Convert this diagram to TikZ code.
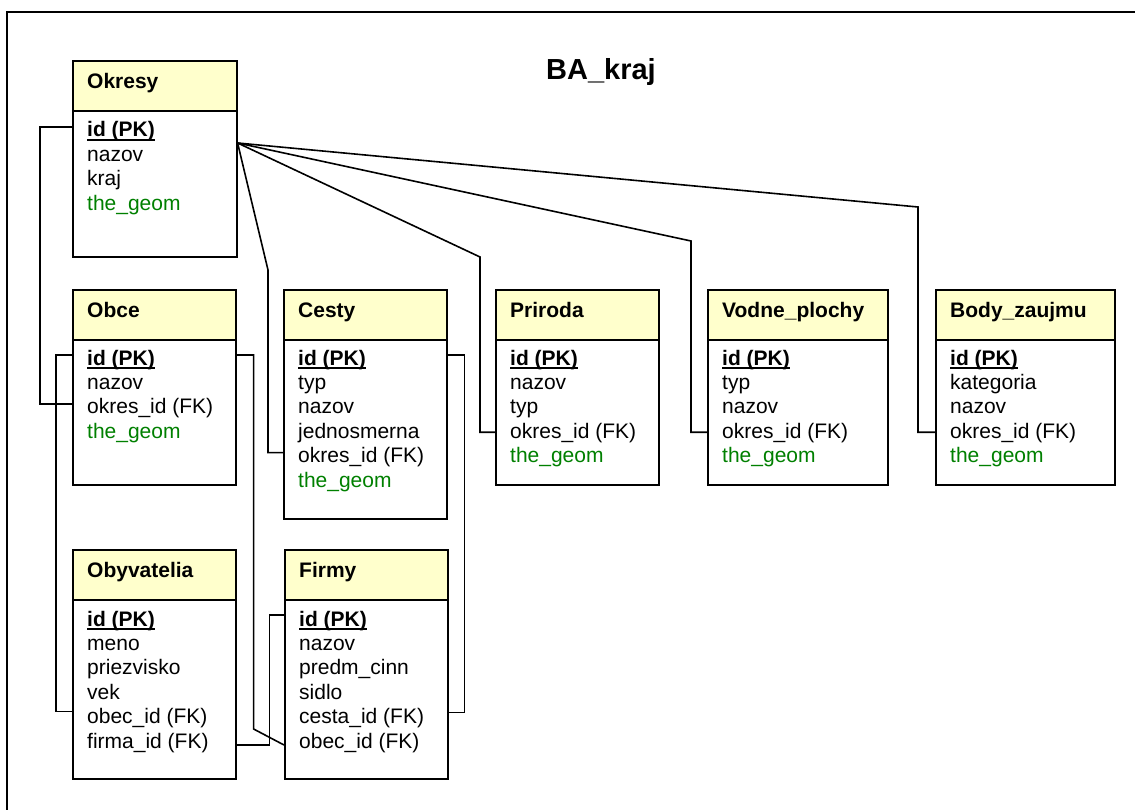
\documentclass[tikz,border=0pt]{standalone}
\usepackage{fontspec}
\setmainfont{Liberation Sans}
\usetikzlibrary{calc}
\definecolor{hdrfill}{RGB}{255,255,204}
\definecolor{geomgreen}{RGB}{0,128,0}
\newcommand\fsz{\fontsize{21pt}{24pt}\selectfont}
\newcommand\pkul[1]{\setbox0=\hbox{#1}\rlap{\rule[-4pt]{\wd0}{2.2pt}}\box0}
\tikzset{
  tbl/.style={draw, line width=1.6pt, fill=white, anchor=north west, inner sep=0pt},
  hdr/.style={tbl, fill=hdrfill, minimum height=50pt},
  ttl/.style={anchor=base west, inner sep=0pt, font=\bfseries\fsz},
  fld/.style={anchor=base west, inner sep=0pt, text height=14pt, text depth=0pt, font=\fsz},
  pk/.style={fld, font=\bfseries\fsz},
  geo/.style={fld, text=geomgreen},
  conn/.style={draw, line width=1.6pt},
  frame/.style={draw, line width=1.8pt}
}
\begin{document}
\begin{tikzpicture}[x=1pt,y=-1pt]
\useasboundingbox (0,0) rectangle (1135,810);
\draw[frame] (7,810) -- (7,12) -- (1135,12);
\node[anchor=base, inner sep=0pt, font=\bfseries\fontsize{29pt}{32pt}\selectfont] (title) at (601,80) {BA\_kraj};

% Okresy
\node[tbl, minimum width=164pt, minimum height=196pt] (okresy) at (72,60) {};
\node[hdr, minimum width=164pt] (okresyH) at (72,60) {};
\node[ttl] (okresyT) at (87,88.5) {Okresy};
\node[pk]  (okresy1) at (87,137)   {\pkul{id (PK)}};
\node[fld] (okresy2) at (87,161.4) {nazov};
\node[fld] (okresy3) at (87,185.8) {kraj};
\node[geo] (okresy4) at (87,210.2) {the\_geom};

% Obce
\node[tbl, minimum width=163pt, minimum height=195pt] (obce) at (72,289) {};
\node[hdr, minimum width=163pt] (obceH) at (72,289) {};
\node[ttl] (obceT) at (87,317.5) {Obce};
\node[pk]  (obce1) at (87,365)   {\pkul{id (PK)}};
\node[fld] (obce2) at (87,389.4) {nazov};
\node[fld] (obce3) at (87,413.8) {okres\_id (FK)};
\node[geo] (obce4) at (87,438.2) {the\_geom};

% Cesty
\node[tbl, minimum width=163pt, minimum height=229pt] (cesty) at (283,289) {};
\node[hdr, minimum width=163pt] (cestyH) at (283,289) {};
\node[ttl] (cestyT) at (298,317.5) {Cesty};
\node[pk]  (cesty1) at (298,365)   {\pkul{id (PK)}};
\node[fld] (cesty2) at (298,389.4) {typ};
\node[fld] (cesty3) at (298,413.8) {nazov};
\node[fld] (cesty4) at (298,438.2) {jednosmerna};
\node[fld] (cesty5) at (298,462.6) {okres\_id (FK)};
\node[geo] (cesty6) at (298,487)   {the\_geom};

% Priroda
\node[tbl, minimum width=163pt, minimum height=195pt] (priroda) at (495,289) {};
\node[hdr, minimum width=163pt] (prirodaH) at (495,289) {};
\node[ttl] (prirodaT) at (510,317.5) {Priroda};
\node[pk]  (priroda1) at (510,365)   {\pkul{id (PK)}};
\node[fld] (priroda2) at (510,389.4) {nazov};
\node[fld] (priroda3) at (510,413.8) {typ};
\node[fld] (priroda4) at (510,438.2) {okres\_id (FK)};
\node[geo] (priroda5) at (510,462.6) {the\_geom};

% Vodne_plochy
\node[tbl, minimum width=180pt, minimum height=195pt] (vodne) at (707,289) {};
\node[hdr, minimum width=180pt] (vodneH) at (707,289) {};
\node[ttl] (vodneT) at (722,317.5) {Vodne\_plochy};
\node[pk]  (vodne1) at (722,365)   {\pkul{id (PK)}};
\node[fld] (vodne2) at (722,389.4) {typ};
\node[fld] (vodne3) at (722,413.8) {nazov};
\node[fld] (vodne4) at (722,438.2) {okres\_id (FK)};
\node[geo] (vodne5) at (722,462.6) {the\_geom};

% Body_zaujmu
\node[tbl, minimum width=179pt, minimum height=195pt] (body) at (935,289) {};
\node[hdr, minimum width=179pt] (bodyH) at (935,289) {};
\node[ttl] (bodyT) at (950,317.5) {Body\_zaujmu};
\node[pk]  (body1) at (950,365)   {\pkul{id (PK)}};
\node[fld] (body2) at (950,389.4) {kategoria};
\node[fld] (body3) at (950,413.8) {nazov};
\node[fld] (body4) at (950,438.2) {okres\_id (FK)};
\node[geo] (body5) at (950,462.6) {the\_geom};

% Obyvatelia
\node[tbl, minimum width=163pt, minimum height=229pt] (obyv) at (72,549) {};
\node[hdr, minimum width=163pt] (obyvH) at (72,549) {};
\node[ttl] (obyvT) at (87,577.5) {Obyvatelia};
\node[pk]  (obyv1) at (87,626)   {\pkul{id (PK)}};
\node[fld] (obyv2) at (87,650.4) {meno};
\node[fld] (obyv3) at (87,674.8) {priezvisko};
\node[fld] (obyv4) at (87,699.2) {vek};
\node[fld] (obyv5) at (87,723.6) {obec\_id (FK)};
\node[fld] (obyv6) at (87,748)   {firma\_id (FK)};

% Firmy
\node[tbl, minimum width=163pt, minimum height=229pt] (firmy) at (284,549) {};
\node[hdr, minimum width=163pt] (firmyH) at (284,549) {};
\node[ttl] (firmyT) at (299,577.5) {Firmy};
\node[pk]  (firmy1) at (299,626)   {\pkul{id (PK)}};
\node[fld] (firmy2) at (299,650.4) {nazov};
\node[fld] (firmy3) at (299,674.8) {predm\_cinn};
\node[fld] (firmy4) at (299,699.2) {sidlo};
\node[fld] (firmy5) at (299,723.6) {cesta\_id (FK)};
\node[fld] (firmy6) at (299,748)   {obec\_id (FK)};

% connectors
\coordinate (oko) at ($(okresy.east|-okresy1)+(0,13)$);
\draw[conn] ($(okresy.west|-okresy1)+(0,-3)$) -| ($(obce.west|-obce3)+(-32,-3)$) -- ($(obce.west|-obce3)+(0,-3)$);
\draw[conn] ($(obce.west|-obce1)+(0,-3)$) -| ($(obyv.west|-obyv5)+(-16,-5)$) -- ($(obyv.west|-obyv5)+(0,-5)$);
\draw[conn] ($(obce.east|-obce1)+(0,-3)$) -| ($(obce.east|-firmy6)+(17,-12)$) -- ($(firmy.west|-firmy6)+(0,4)$);
\draw[conn] ($(firmy.west|-firmy1)+(0,-4)$) -| ($(obyv.east|-obyv6)+(33,4)$) -- ($(obyv.east|-obyv6)+(0,4)$);
\draw[conn] ($(cesty.east|-cesty1)+(0,-3)$) -| ($(firmy.east|-firmy5)+(16,-4)$) -- ($(firmy.east|-firmy5)+(0,-4)$);
\draw[conn] (oko) -- ($(cesty.north west)+(-15,-19)$) |- ($(cesty.west|-cesty5)+(0,-3)$);
\draw[conn] (oko) -- ($(priroda.north west)+(-15,-32)$) |- ($(priroda.west|-priroda4)+(0,1)$);
\draw[conn] (oko) -- ($(vodne.north west)+(-16,-48)$) |- ($(vodne.west|-vodne4)+(0,1)$);
\draw[conn] (oko) -- ($(body.north west)+(-17,-82)$) |- ($(body.west|-body4)+(0,1)$);
\end{tikzpicture}
\end{document}
